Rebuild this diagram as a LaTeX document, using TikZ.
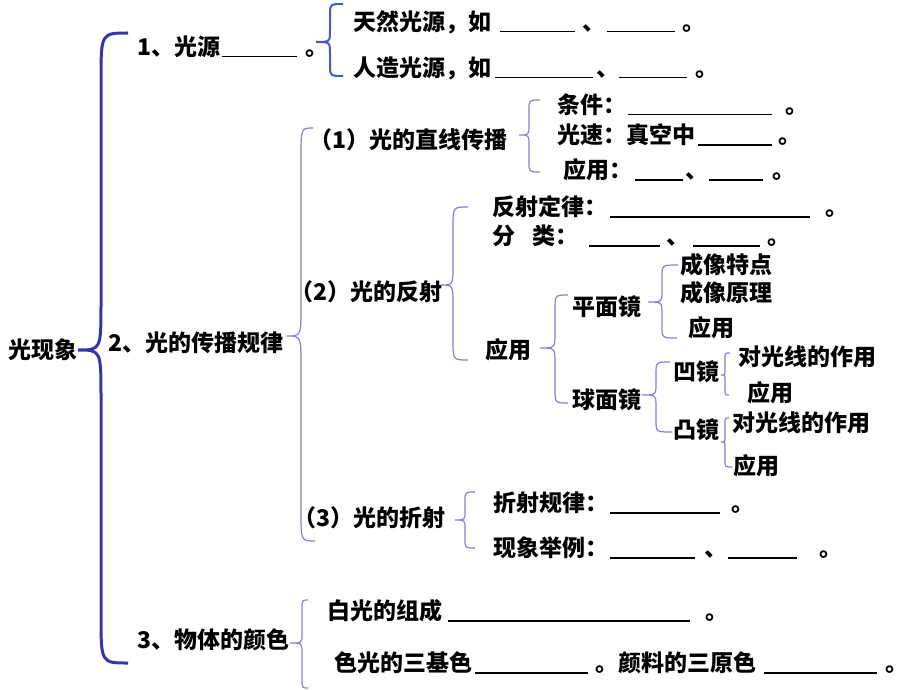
\documentclass[tikz,border=0pt]{standalone}
\usepackage{fontspec}
\setmainfont{Noto Sans CJK SC}
\definecolor{bigbl}{HTML}{3636AA}
\definecolor{midbl}{HTML}{4B58BD}
\definecolor{ltbl}{HTML}{8484C8}
\newcommand\bl[1]{\rule[-2pt]{#1pt}{1.3pt}}
\newcommand\hs[1]{\hspace*{#1pt}}
\newcommand\T[4]{\node[txt] (#3) at (#1,#2+8.5) {#4};}
\newcommand\brc[9]{\draw[#1] (#2,#3) .. controls (#4,#3) .. (#4,#3+#9) -- (#4,#6-#9) .. controls (#4,#6) .. (#5,#6) .. controls (#4,#6) .. (#4,#6+#9) -- (#4,#8-#9) .. controls (#4,#8) .. (#7,#8);}
\tikzset{
  txt/.style={anchor=base west, inner sep=0pt, outer sep=0pt, font=\fontsize{23pt}{27pt}\selectfont\bfseries, text=black},
  bigbrace/.style={draw=bigbl, line width=3pt},
  midbrace/.style={draw=midbl, line width=2pt},
  thinbrace/.style={draw=ltbl, line width=1.2pt}
}
\begin{document}
\begin{tikzpicture}[x=1pt,y=-1pt]
\useasboundingbox[fill=white] (0,0) rectangle (920,690);
% braces
\brc{bigbrace}{128}{33}{101}{78}{350}{128}{663}{48}
\brc{midbrace}{343}{4}{330}{316}{42}{343}{76}{12}
\brc{thinbrace}{313}{128}{301}{287}{336}{315}{541}{30}
\brc{thinbrace}{540}{100}{529}{519}{135}{540}{172}{10}
\brc{thinbrace}{468}{207}{453}{441}{285}{468}{360}{20}
\brc{thinbrace}{568}{295}{555}{540}{348}{568}{403}{15}
\brc{thinbrace}{678}{265}{662}{648}{302}{677}{338}{12}
\brc{thinbrace}{670}{362}{656}{642}{395}{672}{432}{12}
\brc{thinbrace}{730}{353}{725}{721}{375}{729}{395}{6}
\brc{thinbrace}{729}{418}{725}{721}{442}{732}{467}{6}
\brc{thinbrace}{475}{492}{465}{455}{520}{475}{548}{9}
\brc{thinbrace}{308}{600}{302}{290}{643}{308}{688}{10}
% texts
\T{9}{350}{root}{光现象}
\T{137}{47}{s1}{1、光源\hs{2}\bl{75}\hs{8}。}
\T{353}{22}{s1a}{天然光源，如\hs{9}\bl{75}\hs{7}、\hs{2}\bl{68}\hs{7}。}
\T{353}{68}{s1b}{人造光源，如\hs{4}\bl{98}\hs{3}、\bl{68}\hs{8}。}
\T{108}{343}{s2}{2、光的传播规律}
\T{309}{140}{s21}{（1）光的直线传播}
\T{557}{105}{s21a}{条件：\hs{2}\bl{144}\hs{13}。}
\T{557}{135}{s21b}{光速：真空中\hs{3}\bl{74}\hs{6}。}
\T{563}{170}{s21c}{应用：\hs{3}\bl{48}\hs{2}、\hs{1}\bl{54}\hs{9}。}
\T{290}{292}{s22}{（2）光的反射}
\T{492}{207}{s22a}{反射定律：\hs{3}\bl{200}\hs{15}。}
\T{492}{236}{s22b}{分\hs{18}类：\hs{10}\bl{71}\hs{6}、\hs{4}\bl{67}\hs{7}。}
\T{485}{350}{s22c}{应用}
\T{572}{307}{pm}{平面镜}
\T{680}{265}{pm1}{成像特点}
\T{680}{293}{pm2}{成像原理}
\T{688}{328}{pm3}{应用}
\T{572}{400}{qm}{球面镜}
\T{673}{372}{aj}{凹镜}
\T{738}{357}{aj1}{对光线的作用}
\T{747}{393}{aj2}{应用}
\T{673}{430}{tj}{凸镜}
\T{732}{423}{tj1}{对光线的作用}
\T{733}{466}{tj2}{应用}
\T{293}{518}{s23}{（3）光的折射}
\T{493}{503}{s23a}{折射规律：\hs{2}\bl{110}\hs{11}。}
\T{493}{548}{s23b}{现象举例：\hs{2}\bl{85}\hs{9}、\hs{1}\bl{69}\hs{22}。}
\T{137}{640}{s3}{3、物体的颜色}
\T{327}{611}{s3a}{白光的组成\hs{6}\bl{242}\hs{15}。}
\T{334}{663}{s3b}{色光的三基色\hs{3}\bl{113}\hs{7}。\hs{1}颜料的三原色\hs{7}\bl{113}\hs{8}。}
\end{tikzpicture}
\end{document}
